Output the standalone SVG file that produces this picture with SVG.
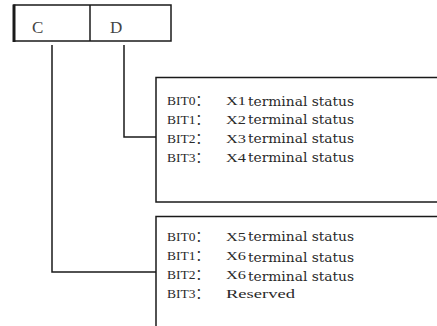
<svg xmlns="http://www.w3.org/2000/svg" width="437" height="326" viewBox="0 0 437 326">
<style>
.ln{fill:none;stroke:#1a1a1a;stroke-width:1.5}
.box{fill:#fff;stroke:#1a1a1a;stroke-width:1.5}
.reg{font-family:"Liberation Serif","Times New Roman",serif;font-size:17px;fill:#444}
.b{font-family:"Liberation Serif","Noto Sans CJK SC",serif;font-size:13.5px;fill:#2a2a2a}
.t{font-family:"DejaVu Serif","Liberation Serif",serif;font-size:12px;font-stretch:condensed;fill:#2a2a2a}
</style>
<rect width="437" height="326" fill="#fff"/>
<g id="register">
  <rect class="box" x="14" y="5" width="157" height="36"/>
  <line class="ln" x1="90" y1="5" x2="90" y2="41"/>
  <line x1="14" y1="4.5" x2="14" y2="42" stroke="#1a1a1a" stroke-width="3"/>
  <text class="reg" x="32" y="32.5">C</text>
  <text class="reg" x="110" y="32.5">D</text>
</g>
<g id="connectors">
  <polyline class="ln" points="124,45 124,137 156,137"/>
  <polyline class="ln" points="52,45 52,272 156,272"/>
</g>
<g id="d-bits">
  <rect class="box" x="156" y="77.5" width="300" height="124.5"/>
  <text class="b" x="167" y="105">BIT0：</text>
  <text class="b" x="226" y="105" textLength="20" lengthAdjust="spacingAndGlyphs">X1</text>
  <text class="t" x="248" y="106" textLength="106" lengthAdjust="spacingAndGlyphs">terminal status</text>
  <text class="b" x="167" y="124">BIT1：</text>
  <text class="b" x="226" y="124" textLength="20" lengthAdjust="spacingAndGlyphs">X2</text>
  <text class="t" x="248" y="124" textLength="106" lengthAdjust="spacingAndGlyphs">terminal status</text>
  <text class="b" x="167" y="143">BIT2：</text>
  <text class="b" x="226" y="143" textLength="20" lengthAdjust="spacingAndGlyphs">X3</text>
  <text class="t" x="248" y="143" textLength="106" lengthAdjust="spacingAndGlyphs">terminal status</text>
  <text class="b" x="167" y="162">BIT3：</text>
  <text class="b" x="226" y="162" textLength="20" lengthAdjust="spacingAndGlyphs">X4</text>
  <text class="t" x="248" y="162" textLength="106" lengthAdjust="spacingAndGlyphs">terminal status</text>
</g>
<g id="c-bits">
  <rect class="box" x="156" y="216.5" width="300" height="150"/>
  <text class="b" x="167" y="241">BIT0：</text>
  <text class="b" x="226" y="241" textLength="20" lengthAdjust="spacingAndGlyphs">X5</text>
  <text class="t" x="248" y="241" textLength="106" lengthAdjust="spacingAndGlyphs">terminal status</text>
  <text class="b" x="167" y="260">BIT1：</text>
  <text class="b" x="226" y="260" textLength="20" lengthAdjust="spacingAndGlyphs">X6</text>
  <text class="t" x="248" y="261.5" textLength="106" lengthAdjust="spacingAndGlyphs">terminal status</text>
  <text class="b" x="167" y="279">BIT2：</text>
  <text class="b" x="226" y="279" textLength="20" lengthAdjust="spacingAndGlyphs">X6</text>
  <text class="t" x="248" y="280.5" textLength="106" lengthAdjust="spacingAndGlyphs">terminal status</text>
  <text class="b" x="167" y="298">BIT3：</text>
  <text class="b" x="226" y="298" textLength="69" lengthAdjust="spacingAndGlyphs">Reserved</text>
</g>
</svg>
